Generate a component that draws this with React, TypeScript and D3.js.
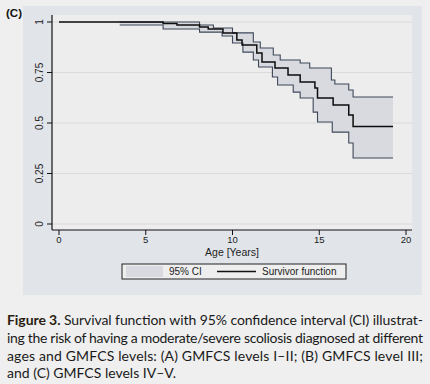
import React from "react";
import * as d3 from "d3";

// ---- data ----
const survTimes = [0, 6.0, 6.8, 8.1, 8.6, 9.45, 10.25, 10.55, 11.4, 11.7, 12.45, 13.2, 13.9, 14.75, 14.9, 15.8, 16.7, 16.95];
const survValues = [1.0, 0.993, 0.985, 0.975, 0.965, 0.946, 0.911, 0.886, 0.847, 0.802, 0.772, 0.738, 0.703, 0.673, 0.624, 0.589, 0.54, 0.483];

const upperTimes = [3.5, 8.1, 8.9, 10.0, 11.2, 11.6, 12.35, 12.75, 13.9, 14.45, 15.7, 15.9, 16.7, 16.95];
const upperValues = [1.0, 0.985, 0.97, 0.946, 0.901, 0.871, 0.837, 0.812, 0.797, 0.772, 0.713, 0.693, 0.663, 0.629];

const lowerTimes = [3.5, 6.0, 8.1, 9.4, 10.0, 10.6, 11.2, 11.5, 12.3, 12.6, 13.5, 13.9, 14.65, 14.9, 15.75, 16.7, 16.95];
const lowerValues = [0.985, 0.965, 0.95, 0.931, 0.896, 0.851, 0.812, 0.777, 0.728, 0.688, 0.653, 0.624, 0.554, 0.505, 0.455, 0.401, 0.327];

const lastTime = 19.25;

const xTicks = [0, 5, 10, 15, 20];
const yTicks = [0, 0.25, 0.5, 0.75, 1];
const yTickLabels = ["0", "0.25", "0.5", "0.75", "1"];

const panelLabel = "(C)";
const xTitle = "Age [Years]";
const legendLabels = ["95% CI", "Survivor function"];
const captionBold = "Figure 3.";
const captionLines = [
  " Survival function with 95% confidence interval (CI) illustrat-",
  "ing the risk of having a moderate/severe scoliosis diagnosed at different",
  "ages and GMFCS levels: (A) GMFCS levels I–II; (B) GMFCS level III;",
  "and (C) GMFCS levels IV–V.",
];

function stepPoints(times: number[], values: number[], end: number): [number, number][] {
  const pts: [number, number][] = [];
  for (let i = 0; i < times.length; i++) {
    if (i > 0) pts.push([times[i], values[i - 1]]);
    pts.push([times[i], values[i]]);
  }
  pts.push([end, values[values.length - 1]]);
  return pts;
}

export default function App() {
  const W = 430, H = 384;
  const x = d3.scaleLinear().domain([0, 20]).range([59, 406]);
  const y = d3.scaleLinear().domain([0, 1]).range([224, 22]);
  const plotL = 52, plotR = 412, plotT = 15, plotB = 230;

  const line = d3.line<[number, number]>().x(d => x(d[0])).y(d => y(d[1]));
  const survPts = stepPoints(survTimes, survValues, lastTime);
  const upPts = stepPoints(upperTimes, upperValues, lastTime);
  const loPts = stepPoints(lowerTimes, lowerValues, lastTime);
  const bandPath = line([...upPts, ...loPts.slice().reverse()]) + "Z";

  const axisFont = "'Liberation Sans', Arial, sans-serif";
  const capFont = "Lato, 'Open Sans', sans-serif";
  const capBase = [325, 343, 361, 378];

  return (
    <svg width={W} height={H} style={{ position: "absolute", left: 0, top: 0 }}>
      <rect x={0} y={0} width={W} height={H} fill="#efefef" />
      <rect x={23} y={6} width={399} height={289} fill="#e1e5ea" />
      <rect x={plotL} y={plotT} width={plotR - plotL} height={plotB - plotT} fill="#ededed" />
      {yTicks.map(t => (
        <line key={"g" + t} x1={plotL} x2={plotR} y1={y(t)} y2={y(t)} stroke="#d9dadc" strokeWidth={1} />
      ))}
      <path d={bandPath} fill="#d8dae0" stroke="none" />
      <path d={line(upPts) || ""} fill="none" stroke="#3e4859" strokeWidth={1.1} />
      <path d={line(loPts) || ""} fill="none" stroke="#3e4859" strokeWidth={1.1} />
      <path d={line(survPts) || ""} fill="none" stroke="#0d0d0d" strokeWidth={1.5} />

      {/* axes */}
      <line x1={plotL} x2={plotL} y1={plotT} y2={plotB} stroke="#111" strokeWidth={1.2} />
      <line x1={plotL} x2={plotR} y1={plotB} y2={plotB} stroke="#111" strokeWidth={1.2} />
      {yTicks.map((t, i) => (
        <g key={"y" + t}>
          <line x1={plotL - 5} x2={plotL} y1={y(t)} y2={y(t)} stroke="#111" strokeWidth={1} />
          <text
            transform={`translate(${plotL - 9},${y(t)}) rotate(-90)`}
            textAnchor="middle"
            fontFamily={axisFont}
            fontSize={10}
            fill="#222"
          >
            {yTickLabels[i]}
          </text>
        </g>
      ))}
      {xTicks.map(t => (
        <g key={"x" + t}>
          <line x1={x(t)} x2={x(t)} y1={plotB} y2={plotB + 5} stroke="#111" strokeWidth={1} />
          <text x={x(t)} y={plotB + 13} textAnchor="middle" fontFamily={axisFont} fontSize={9.5} fill="#222">
            {t}
          </text>
        </g>
      ))}
      <text x={232} y={256} textAnchor="middle" fontFamily={axisFont} fontSize={10.5} fill="#222">
        {xTitle}
      </text>

      {/* legend */}
      <rect x={122} y={264} width={224} height={15} fill="#eeeeee" stroke="#222" strokeWidth={1} />
      <rect x={126} y={266} width={37} height={11} fill="#d8dae0" />
      <text x={169} y={275} fontFamily={axisFont} fontSize={10} fill="#222">{legendLabels[0]}</text>
      <line x1={217} x2={256} y1={271.5} y2={271.5} stroke="#111" strokeWidth={1.3} />
      <text x={262} y={275} fontFamily={axisFont} fontSize={10} fill="#222">{legendLabels[1]}</text>

      <text x={6} y={17} fontFamily={axisFont} fontSize={11.5} fontWeight="bold" fill="#111">{panelLabel}</text>

      {/* caption */}
      <text x={7} y={capBase[0]} fontFamily={capFont} fontSize={14} fill="#1a1a1a" textLength={416} lengthAdjust="spacing">
        <tspan fontWeight="bold" fill="#2a1d12">{captionBold}</tspan>
        <tspan>{captionLines[0]}</tspan>
      </text>
      {captionLines.slice(1).map((l, i) => (
        <text
          key={i}
          x={7}
          y={capBase[i + 1]}
          fontFamily={capFont}
          fontSize={14}
          fill="#1a1a1a"
          {...(i < 2 ? { textLength: 416, lengthAdjust: "spacing" } : {})}
        >
          {l}
        </text>
      ))}
    </svg>
  );
}
